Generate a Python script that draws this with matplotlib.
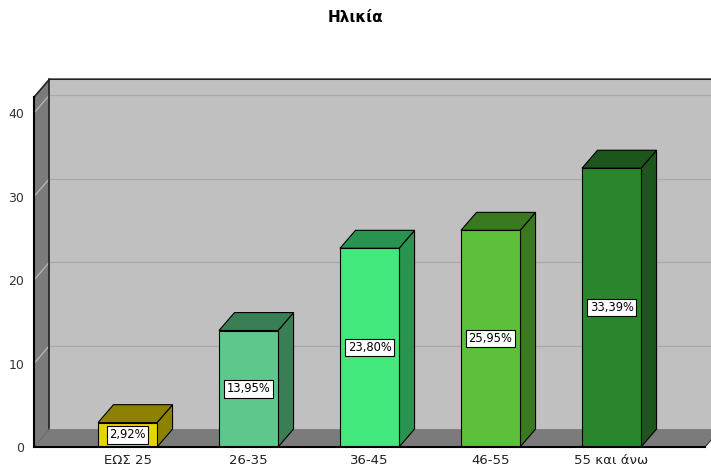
import matplotlib
matplotlib.use("Agg")
import matplotlib.pyplot as plt
from matplotlib.patches import Polygon

title = "Ηλικία"
categories = ["ΕΩΣ 25", "26-35", "36-45", "46-55", "55 και άνω"]
values = [2.92, 13.95, 23.80, 25.95, 33.39]
labels = ["2,92%", "13,95%", "23,80%", "25,95%", "33,39%"]
yticks = [0, 10, 20, 30, 40]

front_colors = ["#e3d500", "#5ec88c", "#42e87c", "#5cc03a", "#2a862c"]
side_colors = ["#8c8200", "#3a7e56", "#289450", "#3a7822", "#1c561c"]

W, H = 711, 469
fig = plt.figure(figsize=(W / 100, H / 100), dpi=100)
fig.patch.set_facecolor("white")

ax = fig.add_axes([34 / W, (H - 447) / H, (W - 34) / W, (447 - 79) / H])
xl, xr = -0.773, 4.773
ax.set_xlim(xl, xl + (W - 34) / 121)
ax.set_ylim(0, (447 - 79) / 8.35)
ytop = 41.9
DX, DY = 0.128, 2.15
bw = 0.488

for s in ax.spines.values():
    s.set_visible(False)
ax.patch.set_visible(False)

# walls
back = Polygon([(xl + DX, DY), (xr + DX, DY), (xr + DX, ytop + DY), (xl + DX, ytop + DY)],
               closed=True, fc="#c0c0c0", ec="none", clip_on=False, zorder=0)
left = Polygon([(xl, 0), (xl + DX, DY), (xl + DX, ytop + DY), (xl, ytop)],
               closed=True, fc="#7b7b7b", ec="none", clip_on=False, zorder=0)
floor = Polygon([(xl, 0), (xr, 0), (xr + DX, DY), (xl + DX, DY)],
                closed=True, fc="#7b7b7b", ec="none", clip_on=False, zorder=0)
for p in (back, left, floor):
    ax.add_patch(p)

for v in yticks[1:]:
    ax.plot([xl + DX, xr + DX], [v + DY, v + DY], color="#a9a9a9", lw=0.9, zorder=1, clip_on=False)
    ax.plot([xl, xl + DX], [v, v + DY], color="#b8b8b8", lw=0.9, zorder=1, clip_on=False)

# outlines
ax.plot([xl, xl + DX, xr + DX], [ytop, ytop + DY, ytop + DY], color="#222222", lw=1.2, zorder=2, clip_on=False)
ax.plot([xl + DX, xl + DX], [DY, ytop + DY], color="#222222", lw=1.2, zorder=2, clip_on=False)
ax.plot([xl, xl + DX], [0, DY], color="#6a6a6a", lw=0.8, zorder=2, clip_on=False)
ax.plot([xr, xr + DX], [0, DY], color="#333333", lw=0.8, zorder=2, clip_on=False)
ax.plot([xl, xl], [0, ytop], color="black", lw=1.5, zorder=5, clip_on=False)
ax.plot([xl, xr], [0, 0], color="black", lw=1.5, zorder=5, clip_on=False)

# bars
for i, v in enumerate(values):
    x0, x1 = i - bw / 2, i + bw / 2
    side = Polygon([(x1, 0), (x1 + DX, DY), (x1 + DX, v + DY), (x1, v)], closed=True,
                   fc=side_colors[i], ec="black", lw=0.8, zorder=3, clip_on=False)
    top = Polygon([(x0, v), (x0 + DX, v + DY), (x1 + DX, v + DY), (x1, v)], closed=True,
                  fc=side_colors[i], ec="black", lw=0.8, zorder=3, clip_on=False)
    ax.add_patch(side)
    ax.add_patch(top)
    ax.bar(i, v, width=bw, color=front_colors[i], edgecolor="black", lw=0.8, zorder=4)
    ax.text(i, v / 2, labels[i], ha="center", va="center", fontsize=8.3, zorder=6,
            bbox=dict(boxstyle="square,pad=0.2", fc="white", ec="black", lw=0.8))

ax.set_xticks(range(len(categories)))
ax.set_xticklabels(categories, fontsize=9.5, color="#222222")
ax.tick_params(axis="x", length=0, pad=5)
ax.set_yticks(yticks)
ax.set_yticklabels([str(t) for t in yticks], fontsize=9, color="#333333")
ax.tick_params(axis="y", length=0, pad=7)

fig.text(0.5, 1 - 17 / H, title, ha="center", va="center", fontsize=11, fontweight="bold")

fig.savefig("out.png", dpi=100)
